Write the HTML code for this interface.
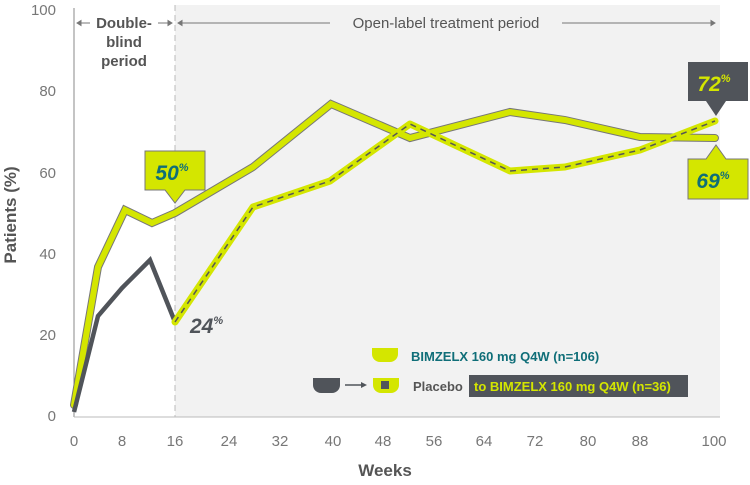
<!DOCTYPE html>
<html><head><meta charset="utf-8"><style>
body{margin:0;background:#fff;}
svg{display:block;font-family:"Liberation Sans",sans-serif;}
</style></head><body>
<svg width="750" height="485" viewBox="0 0 750 485">
<rect x="175" y="5" width="545" height="412" fill="#f2f2f2"/>
<line x1="74" y1="8" x2="74" y2="417" stroke="#888" stroke-width="1"/>
<line x1="74" y1="417" x2="720" y2="417" stroke="#bbb" stroke-width="1"/>
<line x1="175" y1="5" x2="175" y2="417" stroke="#bbb" stroke-width="1" stroke-dasharray="6,4"/>
<g fill="#777" font-size="15" text-anchor="end">
<text x="56" y="15">100</text><text x="56" y="96">80</text><text x="56" y="178">60</text><text x="56" y="259">40</text><text x="56" y="340">20</text><text x="56" y="421">0</text>
</g>
<g fill="#777" font-size="15" text-anchor="middle">
<text x="74" y="446">0</text><text x="122" y="446">8</text><text x="175" y="446">16</text><text x="229" y="446">24</text><text x="280" y="446">32</text><text x="333" y="446">40</text><text x="383" y="446">48</text><text x="434" y="446">56</text><text x="484" y="446">64</text><text x="535" y="446">72</text><text x="588" y="446">80</text><text x="640" y="446">88</text><text x="714" y="446">100</text>
</g>
<text x="385" y="476" fill="#555" font-size="17" font-weight="bold" text-anchor="middle">Weeks</text>
<text transform="translate(16,215) rotate(-90)" fill="#555" font-size="17" font-weight="bold" text-anchor="middle">Patients (%)</text>
<g stroke="#777" stroke-width="1" fill="#777">
<line x1="79" y1="23" x2="90" y2="23"/><path d="M77 23 l4 -2.5 v5z"/>
<line x1="158" y1="23" x2="170" y2="23"/><path d="M172 23 l-4 -2.5 v5z"/>
<line x1="180" y1="23" x2="330" y2="23"/><path d="M178 23 l4 -2.5 v5z"/>
<line x1="562" y1="23" x2="712" y2="23"/><path d="M715 23 l-4 -2.5 v5z"/>
</g>
<g fill="#555" font-size="15" font-weight="bold" text-anchor="middle">
<text x="124" y="28">Double-</text><text x="124" y="47">blind</text><text x="124" y="66">period</text>
<text x="446" y="28" font-weight="normal">Open-label treatment period</text>
</g>
<polyline points="74,405 98,267 125,210 152,223 175,213 253,167 331,104 410,138 510,112 565,120 640,137 715,138" fill="none" stroke="#777" stroke-width="8" stroke-linejoin="miter" stroke-linecap="round"/>
<polyline points="74,405 98,267 125,210 152,223 175,213 253,167 331,104 410,138 510,112 565,120 640,137 715,138" fill="none" stroke="#d4e600" stroke-width="6" stroke-linejoin="miter" stroke-linecap="round"/>
<polyline points="74,412 98,316 122,288 150,260 175,322" fill="none" stroke="#50545a" stroke-width="4.5" stroke-linejoin="miter"/>
<polyline points="175,322 253,207 330,181 410,124 510,171 565,167 640,150 715,121" fill="none" stroke="#d4e600" stroke-width="7" stroke-linejoin="round" stroke-linecap="round"/>
<polyline points="175,322 253,207 330,181 410,124 510,171 565,167 640,150 715,121" fill="none" stroke="#555" stroke-width="1.5" stroke-dasharray="6,5"/>
<path d="M145 151 h60 v39 h-20 l-10 13 l-10 -13 h-20z" fill="#d4e600" stroke="#777" stroke-width="1"/>
<text x="172" y="180" fill="#0f6e78" font-size="21" font-weight="bold" font-style="italic" text-anchor="middle">50<tspan font-size="11" dy="-9">%</tspan></text>
<path d="M688 62 h60 v39 h-22 l-10 15 l-10 -15 h-18z" fill="#50545a"/>
<text x="714" y="91" fill="#d4e600" font-size="21" font-weight="bold" font-style="italic" text-anchor="middle">72<tspan font-size="11" dy="-9">%</tspan></text>
<path d="M688 159 h18 l10 -14 l10 14 h22 v40 h-60z" fill="#d4e600" stroke="#777" stroke-width="1"/>
<text x="713" y="188" fill="#0f6e78" font-size="21" font-weight="bold" font-style="italic" text-anchor="middle">69<tspan font-size="11" dy="-9">%</tspan></text>
<text x="190" y="333" fill="#50545a" font-size="21" font-weight="bold" font-style="italic">24<tspan font-size="11" dy="-9">%</tspan></text>
<path d="M372 348 h26 v6 a8 8 0 0 1 -8 8 h-10 a8 8 0 0 1 -8 -8z" fill="#d4e600"/>
<text x="411" y="361" fill="#0f6e78" font-size="13" font-weight="bold">BIMZELX 160 mg Q4W (n=106)</text>
<path d="M313 378 h27 v7 a8 8 0 0 1 -8 8 h-11 a8 8 0 0 1 -8 -8z" fill="#50545a"/>
<line x1="345" y1="385" x2="362" y2="385" stroke="#50545a" stroke-width="1.5"/><path d="M367 385 l-6 -3 v6z" fill="#50545a"/>
<path d="M373 378 h26 v7 a8 8 0 0 1 -8 8 h-10 a8 8 0 0 1 -8 -8z" fill="#d4e600"/>
<rect x="381" y="381" width="8" height="8" fill="#50545a"/>
<text x="413" y="391" fill="#555" font-size="13" font-weight="bold">Placebo</text>
<rect x="469" y="375" width="219" height="22" fill="#50545a"/>
<text x="474" y="391" fill="#d4e600" font-size="13" font-weight="bold">to BIMZELX 160 mg Q4W (n=36)</text>
</svg>
</body></html>
